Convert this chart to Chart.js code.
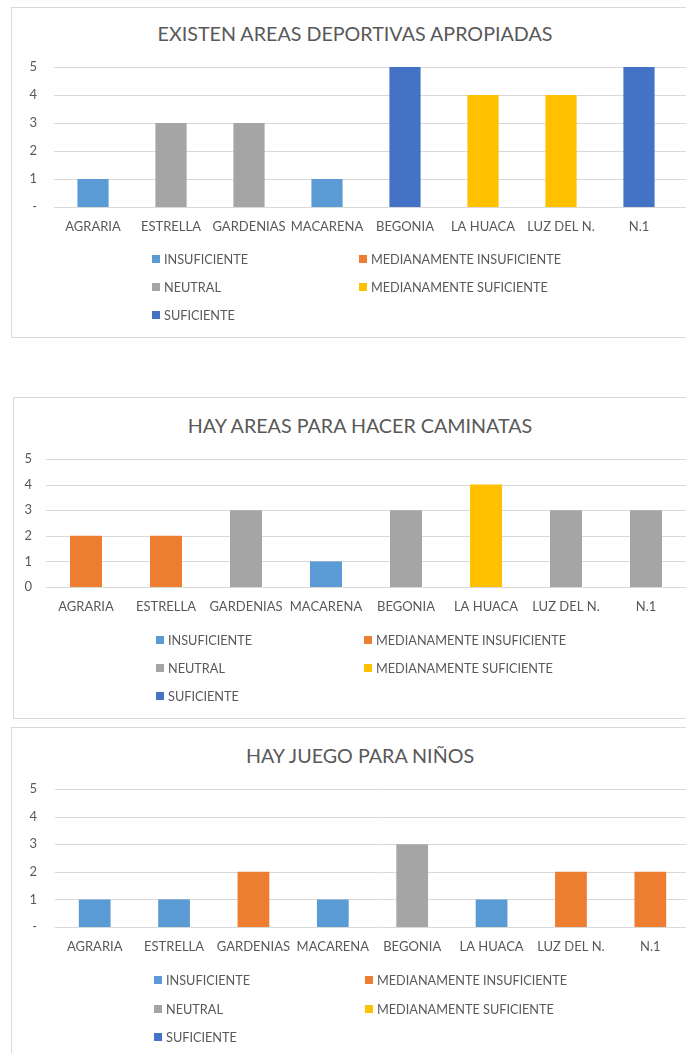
<!DOCTYPE html>
<html>
<head>
<meta charset="utf-8">
<script src="https://cdn.jsdelivr.net/npm/chart.js@4.4.1/dist/chart.umd.min.js"></script>
<style>
  html, body { margin: 0; padding: 0; background: #fff; }
  body { width: 686px; height: 1053px; overflow: hidden; position: relative; font-family: Lato, "Open Sans", sans-serif; color: #595959; }
  .box { position: absolute; border: 1px solid #d9d9d9; box-sizing: border-box; }
  .title { position: absolute; transform: translate(-50%, -50%); white-space: nowrap; font-size: 19.7px; color: #595959; }
  canvas { position: absolute; left: 0; }
  .leg { position: absolute; display: flex; align-items: center; white-space: nowrap; font-size: 12.7px; color: #595959; transform: translateY(-50%); }
  .leg i { display: inline-block; width: 8px; height: 8px; margin-right: 4px; }
</style>
</head>
<body>
<div class="box" style="left:11px;top:7px;width:720px;height:331px;"></div>
<div class="box" style="left:13px;top:397px;width:720px;height:322px;"></div>
<div class="box" style="left:11px;top:727px;width:720px;height:360px;"></div>

<div class="title" id="t1" style="left:355px;top:33px;"></div>
<div class="title" id="t2" style="left:360px;top:425px;"></div>
<div class="title" id="t3" style="left:360px;top:755px;"></div>

<canvas id="c1" width="700" height="330" style="top:7px;"></canvas>
<canvas id="c2" width="700" height="321" style="top:397px;"></canvas>
<canvas id="c3" width="700" height="326" style="top:727px;"></canvas>

<script>
const categories = ['AGRARIA', 'ESTRELLA', 'GARDENIAS', 'MACARENA', 'BEGONIA', 'LA HUACA', 'LUZ DEL N.', 'N.1'];
const levels = ['INSUFICIENTE', 'MEDIANAMENTE INSUFICIENTE', 'NEUTRAL', 'MEDIANAMENTE SUFICIENTE', 'SUFICIENTE'];
const levelColors = ['#5B9BD5', '#ED7D31', '#A5A5A5', '#FFC000', '#4472C4'];

const title1 = 'EXISTEN AREAS DEPORTIVAS APROPIADAS';
const title2 = 'HAY AREAS PARA HACER CAMINATAS';
const title3 = 'HAY JUEGO PARA NIÑOS';

const scores1 = [1, 3, 3, 1, 5, 4, 4, 5];
const scores2 = [2, 2, 3, 1, 3, 4, 3, 3];
const scores3 = [1, 1, 2, 1, 3, 1, 2, 2];

const yTickLabelsDash = ['-', '1', '2', '3', '4', '5'];
const yTickLabelsZero = ['0', '1', '2', '3', '4', '5'];

const FONT = 'Lato, "Open Sans", sans-serif';
const TXT = '#595959';
const GRID = '#d9d9d9';

const gridPlugin = {
  id: 'extGrid',
  beforeDatasetsDraw(chart) {
    const ctx = chart.ctx, y = chart.scales.y, a = chart.chartArea;
    ctx.save();
    ctx.strokeStyle = GRID;
    ctx.lineWidth = 1;
    y.ticks.forEach(t => {
      const py = Math.round(y.getPixelForValue(t.value)) + 0.5;
      ctx.beginPath();
      ctx.moveTo(a.left, py);
      ctx.lineTo(chart.width, py);
      ctx.stroke();
    });
    ctx.restore();
  }
};

function makeChart(id, scores, tickLabels, area, yPad) {
  const canvas = document.getElementById(id);
  const W = canvas.width, H = canvas.height;
  const xAxisH = 30;
  const datasets = levels.map((name, i) => ({
    label: name,
    data: scores.map(s => (s === i + 1 ? s : null)),
    backgroundColor: levelColors[i],
    borderWidth: 0
  }));
  new Chart(canvas, {
    type: 'bar',
    data: { labels: categories, datasets },
    options: {
      responsive: false,
      animation: false,
      categoryPercentage: 1,
      barPercentage: 0.4,
      layout: { padding: { left: 0, top: area.top, right: W - area.right, bottom: H - area.bottom - xAxisH } },
      plugins: { legend: { display: false }, title: { display: false }, tooltip: { enabled: false } },
      scales: {
        x: {
          stacked: true,
          grid: { display: false, drawTicks: false },
          border: { display: false },
          ticks: { color: TXT, font: { family: FONT, size: 13 }, padding: 12, maxRotation: 0, autoSkip: false },
          afterFit(s) { s.height = xAxisH; }
        },
        y: {
          stacked: true,
          min: 0, max: 5,
          grid: { display: false, drawTicks: false },
          border: { display: false },
          ticks: { stepSize: 1, color: TXT, font: { family: FONT, size: 13 }, padding: yPad,
                   callback: v => tickLabels[v] },
          afterFit(s) { s.width = area.left; }
        }
      }
    },
    plugins: [gridPlugin]
  });
}

function makeLegend(rows, col1, col2) {
  const pos = [[col1, rows[0]], [col2, rows[0]], [col1, rows[1]], [col2, rows[1]], [col1, rows[2]]];
  levels.forEach((name, i) => {
    const d = document.createElement('div');
    d.className = 'leg';
    d.style.left = pos[i][0] + 'px';
    d.style.top = pos[i][1] + 'px';
    const m = document.createElement('i');
    m.style.background = levelColors[i];
    d.appendChild(m);
    d.appendChild(document.createTextNode(name));
    document.body.appendChild(d);
  });
}

document.getElementById('t1').textContent = title1;
document.getElementById('t2').textContent = title2;
document.getElementById('t3').textContent = title3;

makeChart('c1', scores1, yTickLabelsDash, { left: 54, top: 60, right: 678, bottom: 200 }, 17);
makeChart('c2', scores2, yTickLabelsZero, { left: 46, top: 62, right: 686, bottom: 190 }, 14);
makeChart('c3', scores3, yTickLabelsDash, { left: 55, top: 62, right: 690, bottom: 200 }, 18);

makeLegend([259, 287, 315], 152, 359);
makeLegend([640, 668, 696], 156, 364);
makeLegend([980, 1009, 1037], 154, 365);
</script>
</body>
</html>
